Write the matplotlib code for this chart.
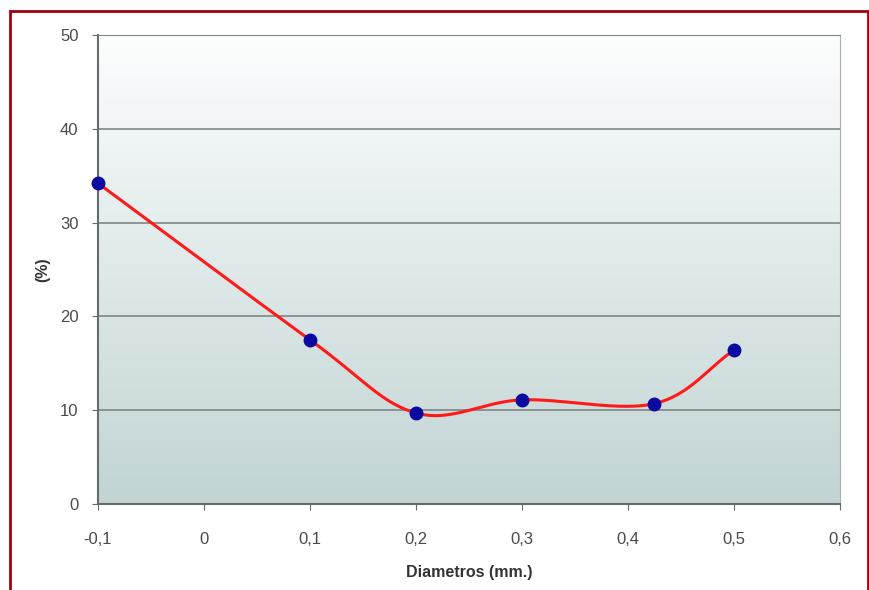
import numpy as np
import matplotlib.pyplot as plt
from matplotlib.patches import Rectangle

plt.rcParams['font.family'] = ['Liberation Sans', 'DejaVu Sans']

# Data
diametros = [-0.1, 0.1, 0.2, 0.3, 0.425, 0.5]
porcentaje = [34.2, 17.5, 9.7, 11.1, 10.7, 16.4]
xticks = [-0.1, 0, 0.1, 0.2, 0.3, 0.4, 0.5, 0.6]
xtick_labels = ["-0,1", "0", "0,1", "0,2", "0,3", "0,4", "0,5", "0,6"]
yticks = [0, 10, 20, 30, 40, 50]


def smooth(xs, ys, n=40):
    # Catmull-Rom style smoothing, like spreadsheet "smoothed line"
    xs = np.asarray(xs, float)
    ys = np.asarray(ys, float)
    px = np.concatenate([[2 * xs[0] - xs[1]], xs, [2 * xs[-1] - xs[-2]]])
    py = np.concatenate([[2 * ys[0] - ys[1]], ys, [2 * ys[-1] - ys[-2]]])
    out_x, out_y = [], []
    t = np.linspace(0, 1, n)
    for i in range(1, len(px) - 2):
        p0, p1, p2, p3 = [np.array([px[j], py[j]]) for j in range(i - 1, i + 3)]
        c1 = p1 + (p2 - p0) / 6
        c2 = p2 - (p3 - p1) / 6
        pts = ((1 - t) ** 3)[:, None] * p1 + (3 * (1 - t) ** 2 * t)[:, None] * c1 \
            + (3 * (1 - t) * t ** 2)[:, None] * c2 + (t ** 3)[:, None] * p2
        out_x.extend(pts[:, 0])
        out_y.extend(pts[:, 1])
    return out_x, out_y


fig = plt.figure(figsize=(8.7, 5.9), dpi=100)
fig.patch.set_facecolor('white')
ax = fig.add_axes([0.1126, 0.1458, 0.8529, 0.7949])

# gradient background
top = np.array([0.99, 0.995, 0.995])
bot = np.array([0.76, 0.83, 0.83])
grad = np.linspace(0, 1, 256)[:, None]
img = top * (1 - grad[:, :, None]) + bot * grad[:, :, None]
ax.imshow(img, extent=[0, 1, 0, 1], transform=ax.transAxes, aspect='auto', zorder=0)

ax.set_xlim(-0.1, 0.6)
ax.set_ylim(0, 50)
ax.set_yticks(yticks)
ax.set_xticks(xticks)
ax.set_xticklabels(xtick_labels)
ax.yaxis.grid(True, color='#7f8585', linewidth=1.2, zorder=1)
ax.set_axisbelow(True)

for s in ['left', 'bottom']:
    ax.spines[s].set_color('#666c6c')
    ax.spines[s].set_linewidth(1.5)
ax.spines['top'].set_color('#7f8585')
ax.spines['right'].set_color('#a8b0b0')
ax.tick_params(axis='both', colors='#666c6c', labelcolor='#4a4a4a', labelsize=12, length=4)
ax.tick_params(axis='x', pad=16)
ax.tick_params(axis='y', pad=10)

sx, sy = smooth(diametros, porcentaje)
ax.plot(sx, sy, color='#ff1a1a', linewidth=2.2, zorder=3)
ax.plot(diametros, porcentaje, 'o', color='#0a0aa0', markersize=9, zorder=4, clip_on=False)

ax.set_xlabel("Diametros (mm.)", fontsize=11.5, fontweight='bold', color='#333333', labelpad=13)
ax.set_ylabel("(%)", fontsize=11.5, fontweight='bold', color='#333333', labelpad=7)

fig.patches.append(Rectangle((10 / 870, -0.05), 858 / 870, 1 - 11 / 590 + 0.05,
                             transform=fig.transFigure, fill=False,
                             edgecolor='#a00010', linewidth=2))

fig.savefig("out.png", dpi=100)
